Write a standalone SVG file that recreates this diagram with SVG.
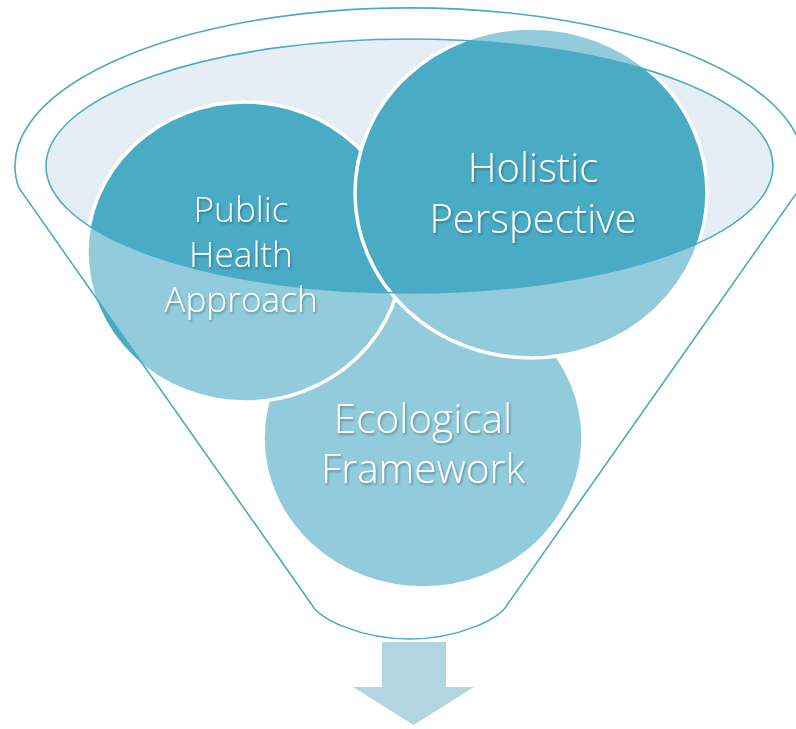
<svg xmlns="http://www.w3.org/2000/svg" width="796" height="729" viewBox="0 0 796 729">
  <defs>
    <filter id="txtShadow" x="-10%" y="-20%" width="120%" height="150%">
      <feDropShadow dx="1.2" dy="1.8" stdDeviation="1" flood-color="#1a3a48" flood-opacity="0.45"/>
    </filter>
  </defs>
  <style>
    .circle { fill: #4aabc5; stroke: #ffffff; stroke-width: 3.5; }
    .label { font-family: "Open Sans", "Noto Sans", "Liberation Sans", sans-serif; font-weight: 300; fill: #ffffff; text-anchor: middle; filter: url(#txtShadow); }
    .line { fill: none; stroke: #4aabc5; stroke-width: 1.6; }
  </style>
  <rect width="796" height="729" fill="#ffffff"/>

  <!-- funnel interior (hole) -->
  <g id="funnel-back">
    <ellipse cx="409.5" cy="166" rx="363.5" ry="127" fill="#e5eef4"/>
  </g>

  <g id="node-ecological">
    <ellipse class="circle" cx="423" cy="438" rx="160" ry="150"/>
  </g>
  <g id="node-public-health">
    <ellipse class="circle" cx="245" cy="252" rx="158" ry="150"/>
  </g>
  <g id="node-holistic">
    <ellipse class="circle" cx="531" cy="193" rx="176" ry="165"/>
  </g>

  <!-- funnel body: translucent white with hole -->
  <g id="funnel-front">
    <path fill="#ffffff" fill-opacity="0.4" fill-rule="evenodd"
      d="M18.9,188 A394.5,158 0 1 1 800.1,188 L507,605 C501,618 459,639 409.5,639 C360,639 318,618 312,605 Z
         M46,166 A363.5,127 0 1 0 773,166 A363.5,127 0 1 0 46,166 Z"/>
    <path class="line" d="M18.9,188 A394.5,158 0 1 1 800.1,188 L507,605 C501,618 459,639 409.5,639 C360,639 318,618 312,605 Z"/>
    <ellipse class="line" cx="409.5" cy="166" rx="363.5" ry="127"/>
  </g>

  <g id="labels">
    <text class="label" font-size="40.5" x="423" y="433">Ecological</text>
    <text class="label" font-size="40.5" x="423" y="483">Framework</text>
    <text class="label" font-size="35.2" x="241" y="222">Public</text>
    <text class="label" font-size="35.2" x="241" y="267">Health</text>
    <text class="label" font-size="35.2" x="241" y="312">Approach</text>
    <text class="label" font-size="40" x="533" y="182">Holistic</text>
    <text class="label" font-size="40" x="533" y="233">Perspective</text>
  </g>

  <g id="connectors">
    <path id="output-arrow" fill="#b3d5e1" d="M382,642 L446,642 L446,687 L474,687 L413.5,725 L353,687 L382,687 Z"/>
  </g>
</svg>
